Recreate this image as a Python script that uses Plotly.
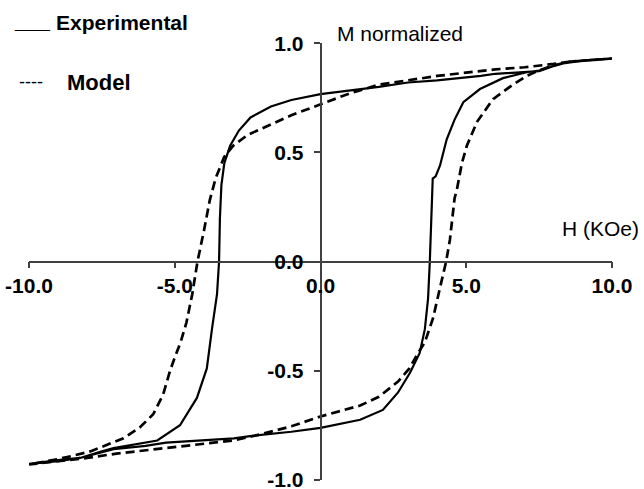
import plotly.graph_objects as go

# Experimental loop (solid): descending branch then ascending branch
exp_down_h = [10, 9, 8.2, 7.5, 6, 5.5, 4, 3, 2, 1, 0, -1, -1.7, -2.4, -2.8, -3.1, -3.3, -3.4,
              -3.45, -3.48, -3.55, -3.72, -3.9, -4.24, -4.82, -5.6, -6.4, -7.1, -7.5, -8.25, -9, -10]
exp_down_m = [0.93, 0.92, 0.905, 0.872, 0.86, 0.85, 0.83, 0.82, 0.80, 0.785, 0.767, 0.74, 0.71, 0.66,
              0.60, 0.53, 0.45, 0.35, 0.2, 0.0, -0.15, -0.306, -0.49, -0.625, -0.75, -0.82, -0.84,
              -0.855, -0.87, -0.90, -0.91, -0.927]
exp_up_h = [-10, -9, -8.25, -7.1, -6, -5.3, -4, -2.97, -2.42, -1, 0, 1.36, 2.14, 2.66, 3.07, 3.4,
            3.58, 3.69, 3.75, 3.79, 3.83, 3.85, 3.95, 4.1, 4.33, 4.6, 4.9, 5.47, 6.26, 7.07, 7.5,
            8.2, 9, 10]
exp_up_m = [-0.927, -0.915, -0.90, -0.86, -0.845, -0.83, -0.82, -0.81, -0.80, -0.78, -0.762, -0.725,
            -0.68, -0.60, -0.51, -0.42, -0.31, -0.17, 0.0, 0.2, 0.33, 0.38, 0.39, 0.44, 0.56, 0.65,
            0.73, 0.79, 0.84, 0.867, 0.875, 0.905, 0.92, 0.93]

# Model loop (dashed)
mod_down_h = [10, 9, 8.5, 8, 7, 6, 5, 4, 3, 2, 1, 0, -1, -2, -2.5, -3, -3.3, -3.6, -3.8, -4.0,
              -4.22, -4.4, -4.6, -4.8, -4.92, -5.0, -5.16, -5.4, -5.74, -6.2, -6.76, -7.33, -7.9,
              -8.5, -9, -10]
mod_down_m = [0.93, 0.92, 0.915, 0.905, 0.89, 0.88, 0.865, 0.85, 0.83, 0.81, 0.77, 0.72, 0.67, 0.61,
              0.58, 0.53, 0.48, 0.38, 0.28, 0.14, 0.0, -0.15, -0.28, -0.37, -0.41, -0.44, -0.50,
              -0.61, -0.70, -0.76, -0.81, -0.84, -0.87, -0.89, -0.905, -0.93]
mod_up_h = [-10, -9, -8, -7, -6, -5, -4, -3, -2, -1, 0, 1, 1.36, 2, 2.66, 3.05, 3.3, 3.58, 3.86,
            4.1, 4.31, 4.44, 4.6, 4.68, 4.85, 5.02, 5.37, 5.92, 6.6, 7.07, 7.4, 7.8, 8.5, 9, 10]
mod_up_m = [-0.93, -0.915, -0.90, -0.88, -0.865, -0.85, -0.835, -0.82, -0.79, -0.755, -0.71, -0.675,
            -0.66, -0.62, -0.55, -0.49, -0.43, -0.37, -0.26, -0.12, 0.0, 0.1, 0.29, 0.33, 0.45,
            0.53, 0.64, 0.744, 0.81, 0.85, 0.87, 0.89, 0.915, 0.92, 0.93]

x_tickvals = [-10, -5, 0, 5, 10]
x_ticktext = ["-10.0", "-5.0", "0.0", "5.0", "10.0"]
y_tickvals = [-1, -0.5, 0, 0.5, 1]
y_ticktext = ["-1.0", "-0.5", "0.0", "0.5", "1.0"]

fig = go.Figure()
fig.add_trace(go.Scatter(x=exp_down_h + exp_up_h, y=exp_down_m + exp_up_m, mode="lines",
                         line=dict(color="black", width=2.2), name="Experimental"))
fig.add_trace(go.Scatter(x=mod_down_h + mod_up_h, y=mod_down_m + mod_up_m, mode="lines",
                         line=dict(color="black", width=2.7, dash="9px,5px"), name="Model"))

tickfont = dict(family="Liberation Sans, Arial, sans-serif", size=21, color="black", weight="bold")
axis_common = dict(showgrid=False, zeroline=False, showline=True, linecolor="#404040", linewidth=1.5,
                   ticks="outside", ticklen=6, tickwidth=1.5, tickcolor="#404040", tickfont=tickfont,
                   anchor="free", position=0.5, fixedrange=True, ticklabeloverflow="allow")
fig.update_xaxes(range=[-10, 10], tickvals=x_tickvals, ticktext=x_ticktext, **axis_common)
fig.update_yaxes(range=[-1.001, 1.001], tickvals=y_tickvals, ticktext=y_ticktext,
                 ticklabelstandoff=6, **axis_common)

W, H = 644, 489
L, R, T, B = 29, 32, 43, 9
pw, ph = W - L - R, H - T - B

def px(x):
    return (x - L) / pw

def py(y):
    return (H - B - y) / ph

txtfont = dict(family="Liberation Sans, Arial, sans-serif", size=21, color="black")
legfont = dict(family="Liberation Sans, Arial, sans-serif", size=21, color="black", weight="bold")
annos = [
    dict(text="M normalized", x=px(335), y=py(34), xanchor="left", yanchor="middle", font=txtfont),
    dict(text="H (KOe)", x=px(641), y=py(228), xanchor="right", yanchor="middle", font=txtfont),
    dict(text="___", x=px(12), y=py(20), xanchor="left", yanchor="middle", font=legfont),
    dict(text="Experimental", x=px(54), y=py(23), xanchor="left", yanchor="middle", font=legfont),
    dict(text="----", x=px(17), y=py(82), xanchor="left", yanchor="middle",
         font=dict(family="Liberation Sans, Arial, sans-serif", size=18, color="black")),
    dict(text="Model", x=px(65), y=py(82), xanchor="left", yanchor="middle",
         font=dict(family="Liberation Sans, Arial, sans-serif", size=22, color="black", weight="bold")),
]
for a in annos:
    a.update(xref="paper", yref="paper", showarrow=False)

fig.update_layout(width=W, height=H, margin=dict(l=L, r=R, t=T, b=B, autoexpand=False),
                  paper_bgcolor="white", plot_bgcolor="white", showlegend=False,
                  annotations=annos)
fig.write_html("out.html", config={"displayModeBar": False},
               post_script="document.body.style.margin='0px';document.body.style.overflow='hidden';")
